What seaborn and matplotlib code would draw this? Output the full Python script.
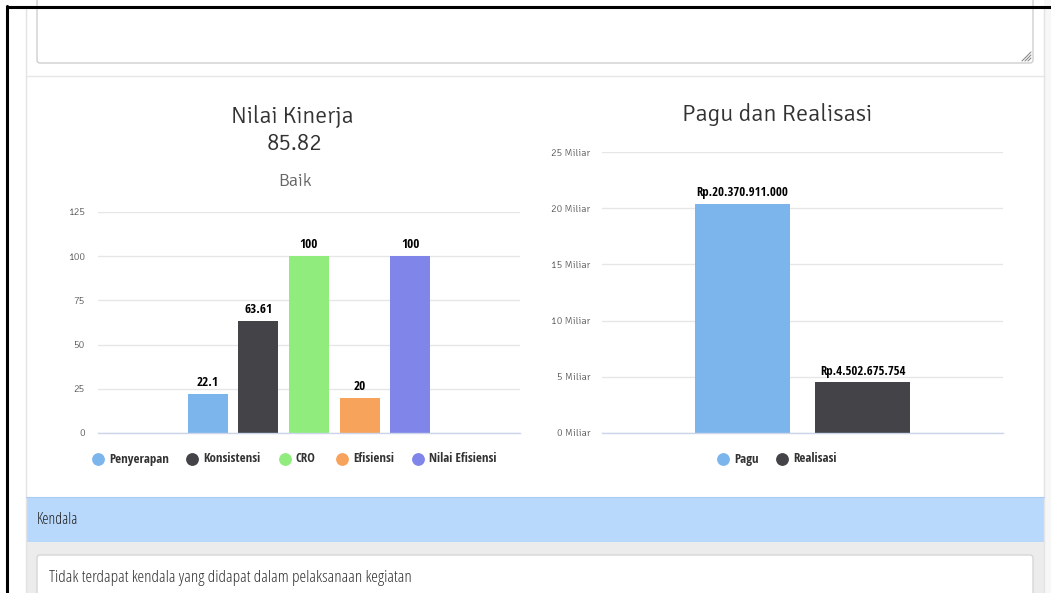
import matplotlib
matplotlib.use("Agg")
import matplotlib.pyplot as plt
import seaborn as sns
from matplotlib import font_manager
from matplotlib.font_manager import FontProperties
from matplotlib.patches import Rectangle, FancyBboxPatch
from matplotlib.lines import Line2D
from matplotlib.transforms import Affine2D
from matplotlib.ticker import FuncFormatter

# ---------------- data ----------------
kinerja_title = "Nilai Kinerja"
kinerja_score = "85.82"
kinerja_grade = "Baik"
kinerja_categories = ["Penyerapan", "Konsistensi", "CRO", "Efisiensi", "Nilai Efisiensi"]
kinerja_values = [22.1, 63.61, 100, 20, 100]
kinerja_colors = ["#7cb5ec", "#434348", "#90ed7d", "#f7a35c", "#8085e9"]
kinerja_ticks = [0, 25, 50, 75, 100, 125]

anggaran_title = "Pagu dan Realisasi"
anggaran_categories = ["Pagu", "Realisasi"]
anggaran_values = [20370911000, 4502675754]
anggaran_colors = ["#7cb5ec", "#434348"]
anggaran_ticks = [0, 5e9, 10e9, 15e9, 20e9, 25e9]

kendala_header = "Kendala"
kendala_text = "Tidak terdapat kendala yang didapat dalam pelaksanaan kegiatan"

# ---------------- fonts ----------------
sns.set_style("white")
plt.rcParams["font.family"] = ["Open Sans", "DejaVu Sans"]


def find_font(name, weights, stretch=None):
    for w in weights:
        for f in font_manager.fontManager.ttflist:
            if f.name == name and f.weight == w and f.style == "normal" and \
                    (stretch is None or f.stretch == stretch):
                return f.fname
    return None


page_path = (find_font("Open Sans", [300, 400], "condensed")
             or find_font("IBM Plex Sans Condensed", [300, 400]))
bold_path = (find_font("Open Sans Condensed", [700])
             or find_font("Open Sans", [700], "condensed")
             or find_font("IBM Plex Sans Condensed", [700, 600]))
title_path = find_font("Signika", [300, 400]) or find_font("Open Sans", [300, 400])
tick_path = find_font("Signika", [400, 300]) or find_font("Open Sans", [400, 300])


def fp(path, size):
    if path:
        return FontProperties(fname=path, size=size)
    return FontProperties(family="DejaVu Sans", size=size)


W, H = 1051, 593
fig = plt.figure(figsize=(W / 100, H / 100), dpi=100)
fig.patch.set_facecolor("white")
renderer = fig.canvas.get_renderer()
pix = Affine2D().scale(1 / W, -1 / H).translate(0, 1) + fig.transFigure


def fit_size(s, path, target_px, lo=5, hi=24):
    t = fig.text(0, 0, s, fontproperties=fp(path, 10))
    w = t.get_window_extent(renderer).width
    t.remove()
    return max(lo, min(hi, 10 * target_px / w))


def rect(x, y, w, h, fc, ec="none", lw=0, z=0):
    fig.add_artist(Rectangle((x, y), w, h, transform=pix, facecolor=fc,
                             edgecolor=ec, linewidth=lw, zorder=z))


def hline(x0, x1, y, c, lw=1, z=1):
    fig.add_artist(Line2D([x0, x1], [y, y], transform=pix, color=c, lw=lw, zorder=z))


def vline(x, y0, y1, c, lw=1, z=1):
    fig.add_artist(Line2D([x, x], [y0, y1], transform=pix, color=c, lw=lw, zorder=z))


def ftext(x, y, s, **kw):
    fig.text(x / W, 1 - y / H, s, **kw)


# page background
rect(1044, 0, 7, H, "#f7f7f7")
rect(26, 542, 1018, 51, "#ececec")
rect(26, 497, 1018, 45, "#b8d9fc")
hline(26, 1044, 497, "#a9cdf2", 0.8, 2)
vline(26, 8, H, "#e3e3e3", 1)
vline(1044, 8, H, "#e3e3e3", 1)
hline(26, 1044, 76, "#e6e6e6", 1)
fig.add_artist(FancyBboxPatch((37, -10), 996, 73, boxstyle="round,pad=0,rounding_size=3",
                              transform=pix, facecolor="white", edgecolor="#cfcfcf", lw=1, zorder=1))
for (xa, ya, xb, yb) in [(1031, 52, 1022, 61), (1031, 55, 1025, 61), (1031, 58, 1028, 61)]:
    fig.add_artist(Line2D([xa, xb], [ya, yb], transform=pix, color="#8a8a8a", lw=0.8, zorder=2))
fig.add_artist(FancyBboxPatch((37, 555), 996, 60, boxstyle="round,pad=0,rounding_size=3",
                              transform=pix, facecolor="white", edgecolor="#d6d6d6", lw=1, zorder=1))
hline(7, W, 7, "black", 2.2, 5)
vline(7, 6, H, "black", 2.2, 5)

ftext(37, 520, kendala_header, fontproperties=fp(page_path, fit_size(kendala_header, page_path, 41)),
      color="#1f1f1f", va="center", ha="left")
ftext(49, 578, kendala_text, fontproperties=fp(page_path, fit_size(kendala_text, page_path, 366)),
      color="#333333", va="center", ha="left")


def style_axis(ax, tick_size, pad):
    ax.set_facecolor("none")
    ax.yaxis.grid(True, color="#e6e6e6", lw=1)
    ax.xaxis.grid(False)
    ax.set_axisbelow(True)
    for s in ["top", "right", "left"]:
        ax.spines[s].set_visible(False)
    ax.spines["bottom"].set_color("#ccd6eb")
    ax.spines["bottom"].set_linewidth(1)
    ax.set_xticks([])
    ax.set_xlabel("")
    ax.set_ylabel("")
    ax.tick_params(axis="y", length=0, pad=pad)
    for lab in ax.get_yticklabels():
        lab.set_fontproperties(fp(tick_path, tick_size))
        lab.set_color("#606060")


# ---------------- left chart ----------------
ax1 = fig.add_axes([98 / W, 1 - 433 / H, 422 / W, 221 / H])
sns.barplot(x=kinerja_categories, y=kinerja_values, hue=kinerja_categories,
            palette=kinerja_colors, dodge=False, width=0.79, saturation=1,
            legend=False, linewidth=0, ax=ax1)
ax1.set_ylim(0, 125)
ax1.set_yticks(kinerja_ticks)
style_axis(ax1, fit_size("125", tick_path, 17), 9.4)
ax1.set_xlim(2 - 4.17, 2 + 4.17)
lab1_size = fit_size("63.61", bold_path, 28)
for cont in ax1.containers:
    ax1.bar_label(cont, fmt="{:g}", padding=3.5, fontproperties=fp(bold_path, lab1_size), color="black")

ftext(292, 116, kinerja_title, fontproperties=fp(title_path, fit_size(kinerja_title, title_path, 123)),
      color="#333333", ha="center", va="center")
ftext(295, 143, kinerja_score, fontproperties=fp(title_path, fit_size(kinerja_score, title_path, 56)),
      color="#333333", ha="center", va="center")
ftext(295, 181, kinerja_grade, fontproperties=fp(title_path, fit_size(kinerja_grade, title_path, 34)),
      color="#666666", ha="center", va="center")

leg_size = fit_size("Nilai Efisiensi", bold_path, 68)
leg1_marker_x = [98, 192, 285, 342, 418]
for cat, col, mx in zip(kinerja_categories, kinerja_colors, leg1_marker_x):
    fig.add_artist(Line2D([mx], [459], transform=pix, marker="o", ms=8.2, color=col, lw=0, zorder=3))
    ftext(mx + 11, 459, cat, fontproperties=fp(bold_path, leg_size), color="#333333", va="center", ha="left")

# ---------------- right chart ----------------
ax2 = fig.add_axes([602 / W, 1 - 433 / H, 401 / W, 281 / H])
sns.barplot(x=anggaran_categories, y=anggaran_values, hue=anggaran_categories,
            palette=anggaran_colors, dodge=False, width=0.79, saturation=1,
            legend=False, linewidth=0, ax=ax2)
ax2.set_ylim(0, 25e9)
ax2.set_yticks(anggaran_ticks)
ax2.yaxis.set_major_formatter(FuncFormatter(lambda v, p: f"{v / 1e9:.0f} Miliar"))
style_axis(ax2, fit_size("25 Miliar", tick_path, 39), 8.6)
ax2.set_xlim(0.5 - 1.67, 0.5 + 1.67)
lab2_size = fit_size("Rp.20.370.911.000", bold_path, 91)
for cont in ax2.containers:
    ax2.bar_label(cont, fmt=lambda v: "Rp." + f"{int(round(v)):,}".replace(",", "."),
                  padding=3.5, fontproperties=fp(bold_path, lab2_size), color="black")

ftext(777, 114, anggaran_title, fontproperties=fp(title_path, fit_size(anggaran_title, title_path, 190)),
      color="#333333", ha="center", va="center")

leg2_marker_x = [723, 782]
for cat, col, mx in zip(anggaran_categories, anggaran_colors, leg2_marker_x):
    fig.add_artist(Line2D([mx], [459], transform=pix, marker="o", ms=8.2, color=col, lw=0, zorder=3))
    ftext(mx + 11, 459, cat, fontproperties=fp(bold_path, leg_size), color="#333333", va="center", ha="left")

fig.savefig("out.png", dpi=100)
